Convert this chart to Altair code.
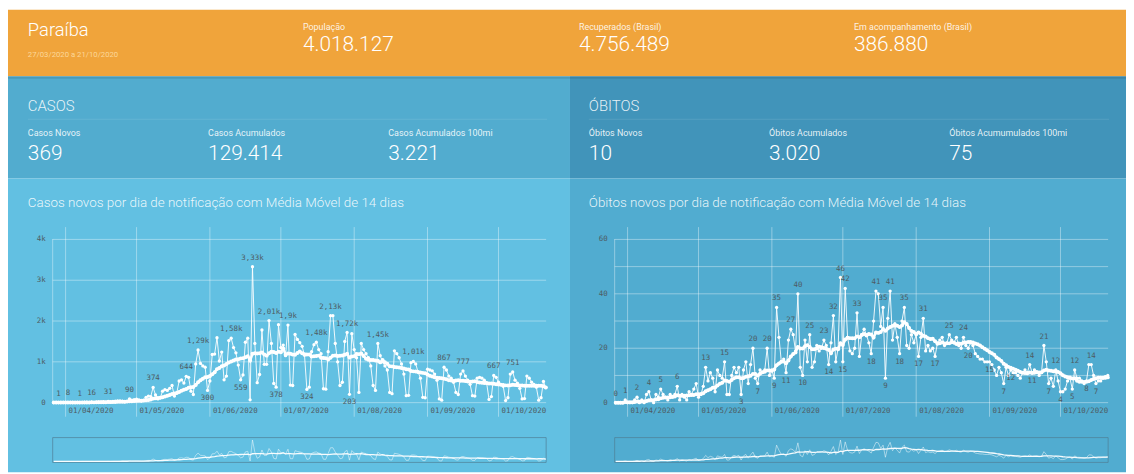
import altair as alt
import pandas as pd

# ------------------------------------------------------------------ content
state_name = "Paraíba"
period_text = "27/03/2020 a 21/10/2020"
header_labels = ["População", "Recuperados (Brasil)", "Em acompanhamento (Brasil)"]
header_values = ["4.018.127", "4.756.489", "386.880"]

cases_section = "CASOS"
cases_kpi_labels = ["Casos Novos", "Casos Acumulados", "Casos Acumulados 100mi"]
cases_kpi_values = ["369", "129.414", "3.221"]
cases_chart_title = "Casos novos por dia de notificação com Média Móvel de 14 dias"

deaths_section = "ÓBITOS"
deaths_kpi_labels = ["Óbitos Novos", "Óbitos Acumulados", "Óbitos Acumumulados 100mi"]
deaths_kpi_values = ["10", "3.020", "75"]
deaths_chart_title = "Óbitos novos por dia de notificação com Média Móvel de 14 dias"

start_date = "2020-03-27"   # one value per day up to 21/10/2020

new_cases = [
    2, 4, 1, 3, 5, 6, 8,
    5, 3, 2, 7, 1, 9, 12,
    10, 8, 16, 4, 14, 18, 20,
    22, 15, 31, 12, 28, 35, 40,
    45, 38, 20, 30, 90, 60, 75,
    85, 70, 40, 55, 130, 160, 150,
    374, 190, 90, 120, 280, 320, 300,
    350, 420, 160, 240, 530, 560, 480,
    644, 620, 280, 200, 950, 1290, 960,
    900, 870, 300, 530, 1180, 1190, 1590,
    1020, 1240, 560, 650, 1520, 1580, 1350,
    1220, 920, 559, 680, 1480, 1580, 70,
    3330, 1450, 490, 690, 1780, 940, 940,
    2010, 1450, 470, 378, 1910, 1350, 1410,
    1150, 1900, 430, 420, 1670, 1550, 1470,
    1380, 1160, 324, 380, 1250, 1420, 1480,
    1300, 1200, 340, 330, 1250, 2130, 2130,
    1450, 1000, 420, 500, 1500, 1720, 203,
    1690, 1300, 1100, 250, 1450, 1300, 1200,
    1100, 900, 420, 300, 1450, 1150, 1000,
    900, 800, 250, 220, 1270, 1200, 1100,
    950, 700, 170, 180, 980, 1010, 950,
    750, 600, 130, 120, 820, 800, 780,
    700, 550, 90, 60, 867, 800, 650,
    600, 500, 250, 200, 700, 777, 650,
    550, 450, 170, 160, 600, 620, 600,
    550, 480, 80, 150, 667, 620, 500,
    450, 400, 50, 120, 700, 751, 550,
    480, 350, 90, 100, 650, 600, 500,
    450, 380, 60, 120, 520, 369,
]

new_deaths = [
    0, 0, 0, 0, 1, 0, 0,
    0, 1, 2, 0, 1, 0, 3,
    4, 1, 0, 3, 2, 5, 3,
    2, 1, 3, 2, 3, 6, 1,
    3, 2, 1, 4, 3, 5, 7,
    2, 3, 6, 13, 8, 11, 9,
    4, 12, 10, 9, 15, 3, 3,
    10, 13, 11, 13, 3, 12, 15,
    7, 14, 20, 9, 7, 12, 11,
    12, 20, 10, 12, 9, 35, 24,
    15, 16, 11, 23, 27, 25, 19,
    40, 13, 10, 23, 15, 25, 13,
    15, 21, 19, 20, 23, 21, 14,
    22, 32, 15, 20, 46, 15, 42,
    24, 19, 18, 20, 33, 17, 25,
    27, 25, 22, 18, 30, 41, 40,
    28, 35, 9, 31, 41, 23, 29,
    24, 18, 30, 35, 21, 20, 25,
    22, 25, 17, 24, 31, 19, 21,
    19, 20, 17, 22, 23, 24, 21,
    22, 25, 23, 22, 24, 21, 20,
    24, 21, 20, 22, 21, 18, 17,
    16, 16, 15, 15, 15, 14, 12,
    10, 13, 11, 7, 13, 10, 12,
    11, 11, 10, 9, 11, 12, 11,
    14, 11, 12, 11, 10, 11, 21,
    15, 7, 9, 6, 12, 8, 4,
    4, 5, 8, 9, 5, 12, 9,
    9, 8, 7, 8, 14, 14, 10,
    7, 8, 8, 9, 9, 10,
]

# days (index from start_date) whose value is written above / below the point
cases_labels_above = [2, 6, 11, 16, 23, 32, 42, 56, 61, 75, 84, 91, 99, 111, 117, 124,
                      137, 152, 165, 173, 186, 194]
cases_labels_below = [65, 79, 94, 107, 125]
deaths_labels_above = [0, 4, 9, 14, 19, 26, 38, 46, 58, 64, 68, 74, 77, 82, 88, 92, 95, 97,
                       102, 110, 113, 116, 122, 130, 141, 147, 175, 181, 186, 194, 201]
deaths_labels_below = [53, 60, 67, 72, 79, 90, 96, 108, 114, 120, 128, 135, 149, 158, 164,
                       167, 176, 183, 188, 193, 199, 203]

month_ticks = ["2020-04-01", "2020-05-01", "2020-06-01", "2020-07-01",
               "2020-08-01", "2020-09-01", "2020-10-01"]
month_tick_text = ["01/04/2020", "01/05/2020", "01/06/2020", "01/07/2020",
                   "01/08/2020", "01/09/2020", "01/10/2020"]

cases_grid = [0, 1000, 2000, 3000, 4000]
cases_ticks = [0, 1000, 2000, 3000, 4000]
cases_tick_text = ["0", "1k", "2k", "3k", "4k"]
deaths_grid = [0, 10, 20, 30, 40, 50, 60]
deaths_ticks = [0, 20, 40, 60]
deaths_tick_text = ["0", "20", "40", "60"]

# ------------------------------------------------------------------ style
W, H = 1126, 466
ORANGE = "#f0a43b"
KPI_L = "#52accf"
KPI_R = "#4194ba"
CH_L = "#62c0e2"
CH_R = "#51acd0"
GRID = "rgba(255,255,255,0.38)"
LABEL_C = "#4e5c64"
SOFT = "rgba(255,255,255,0.88)"
THIN = "Roboto, 'Noto Sans', sans-serif"
SANS = "Roboto, 'Noto Sans', sans-serif"
MONO = "'DejaVu Sans Mono', monospace"

DUMMY = pd.DataFrame({"k": [0]})
dates = pd.date_range(start_date, periods=len(new_cases), freq="D")
D0 = alt.DateTime(year=2020, month=3, date=27)
D1 = alt.DateTime(year=2020, month=10, date=21)


def rect(x, x2, y, y2, color):
    return alt.Chart(DUMMY).mark_rect(color=color).encode(
        x=alt.value(x), x2=alt.value(x2), y=alt.value(y), y2=alt.value(y2))


def text(s, x, y, size, color="white", font=THIN, weight=300, baseline="alphabetic"):
    return alt.Chart(DUMMY).mark_text(
        text=s, align="left", baseline=baseline, fontSize=size, font=font,
        color=color, fontWeight=weight).encode(x=alt.value(x), y=alt.value(y))


def fmt(v):
    return f"{v / 1000:.3g}k".replace(".", ",") if v >= 1000 else str(v)


def panel(values, above, below, ox, ydom, grid, ticks, tick_text, nav_max):
    df = pd.DataFrame({"date": dates, "v": values})
    xsc = alt.Scale(domain=[D0, D1], range=[46.1 + ox, 541.65 + ox], nice=False)
    ysc = alt.Scale(domain=ydom, range=[395.8, 231.4], nice=False, zero=False)
    nsc = alt.Scale(domain=[0, nav_max], range=[455, 433], nice=False, zero=False)
    X = lambda f: alt.X(f, scale=xsc, axis=None)
    Y = lambda f: alt.Y(f, scale=ysc, axis=None)

    layers = []
    gdf = pd.DataFrame({"g": grid})
    layers.append(alt.Chart(gdf).mark_rule(color=GRID, strokeWidth=1).encode(
        y=Y("g:Q"), x=alt.value(45 + ox), x2=alt.value(542 + ox)))
    mdf = pd.DataFrame({"m": pd.to_datetime(month_ticks), "t": month_tick_text})
    layers.append(alt.Chart(mdf).mark_rule(color=GRID, strokeWidth=1).encode(
        x=X("m:T"), y=alt.value(219), y2=alt.value(410)))
    layers.append(alt.Chart(DUMMY).mark_rule(color=GRID, strokeWidth=1).encode(
        x=alt.value(45 + ox), y=alt.value(231), y2=alt.value(396)))
    tdf = pd.DataFrame({"g": ticks, "t": tick_text})
    layers.append(alt.Chart(tdf).mark_text(
        align="right", baseline="middle", font=MONO, fontSize=7.5, color=LABEL_C).encode(
        y=Y("g:Q"), x=alt.value(38 + ox), text="t:N"))
    layers.append(alt.Chart(mdf).mark_text(
        align="left", baseline="middle", font=MONO, fontSize=7.5, color=LABEL_C, dx=3).encode(
        x=X("m:T"), y=alt.value(404), text="t:N"))

    base = alt.Chart(df).encode(x=X("date:T"), y=Y("v:Q"))
    layers.append(base.mark_line(color="white", strokeWidth=1, opacity=0.9))
    layers.append(base.mark_circle(color="white", size=11, opacity=1))

    ma = alt.Chart(df).transform_window(
        ma="mean(v)", frame=[-13, 0], sort=[alt.SortField("date")]
    ).encode(x=X("date:T"), y=Y("ma:Q"))
    layers.append(ma.mark_line(color="white", strokeWidth=2.5))
    layers.append(ma.mark_circle(color="white", size=16, opacity=1))

    up = df.iloc[above].assign(t=lambda d: d["v"].map(fmt))
    dn = df.iloc[below].assign(t=lambda d: d["v"].map(fmt))
    layers.append(alt.Chart(up).mark_text(
        font=MONO, fontSize=7.5, color=LABEL_C, dy=-9, baseline="middle").encode(
        x=X("date:T"), y=Y("v:Q"), text="t:N"))
    layers.append(alt.Chart(dn).mark_text(
        font=MONO, fontSize=7.5, color=LABEL_C, dy=8, baseline="middle").encode(
        x=X("date:T"), y=Y("v:Q"), text="t:N"))

    # range navigator
    layers.append(alt.Chart(DUMMY).mark_rect(
        fillOpacity=0, stroke="#4f7f96", strokeOpacity=0.7, strokeWidth=1).encode(
        x=alt.value(45 + ox), x2=alt.value(542 + ox), y=alt.value(431), y2=alt.value(456)))
    nav = alt.Chart(df).encode(x=X("date:T"), y=alt.Y("v:Q", scale=nsc, axis=None))
    layers.append(nav.mark_line(color="white", strokeWidth=0.8, opacity=0.6))
    nav_ma = alt.Chart(df).transform_window(
        ma="mean(v)", frame=[-13, 0], sort=[alt.SortField("date")]
    ).encode(x=X("date:T"), y=alt.Y("ma:Q", scale=nsc, axis=None))
    layers.append(nav_ma.mark_line(color="white", strokeWidth=1.3, opacity=0.95))
    return layers


layers = [
    rect(0, W, 0, 67, ORANGE),
    rect(0, 566, 67, 170, KPI_L),
    rect(566, W, 67, 170, KPI_R),
    rect(0, 566, 170, H, CH_L),
    rect(566, W, 170, H, CH_R),
    rect(0, W, 67, 69.5, "rgba(0,0,0,0.10)"),
    rect(20, 543, 110, 111, "rgba(255,255,255,0.10)"),
    rect(585, 1109, 110, 111, "rgba(255,255,255,0.10)"),
    text(state_name, 20, 27, 18.5),
    text(period_text, 20, 48, 7.8, color="#fcd79a", weight=400),
]
for lab, val, x in zip(header_labels, header_values, [297, 575, 852]):
    layers.append(text(lab, x, 20, 9, color=SOFT, font=SANS, weight=400))
    layers.append(text(val, x, 42, 21))

for section, labs, vals, title, ox in [
        (cases_section, cases_kpi_labels, cases_kpi_values, cases_chart_title, 0),
        (deaths_section, deaths_kpi_labels, deaths_kpi_values, deaths_chart_title, 565)]:
    layers.append(text(section, 20 + ox, 102, 15, color=SOFT))
    for i, (lab, val) in enumerate(zip(labs, vals)):
        layers.append(text(lab, 20 + ox + 181.5 * i, 127, 9, color=SOFT, font=SANS, weight=400))
        layers.append(text(val, 20 + ox + 181.5 * i, 151, 21))
    layers.append(text(title, 20 + ox, 195, 13.5, color=SOFT, baseline="middle"))

layers += panel(new_cases, cases_labels_above, cases_labels_below, 0,
                [0, 4000], cases_grid, cases_ticks, cases_tick_text, 3400)
layers += panel(new_deaths, deaths_labels_above, deaths_labels_below, 566,
                [0, 60], deaths_grid, deaths_ticks, deaths_tick_text, 47)

chart = alt.layer(*layers).resolve_scale(x="independent", y="independent").properties(
    width=W, height=H, padding=0, autosize=alt.AutoSizeParams(type="none")
).configure_view(strokeWidth=0)

chart.save("out.html", embed_options={"renderer": "svg", "actions": False})
